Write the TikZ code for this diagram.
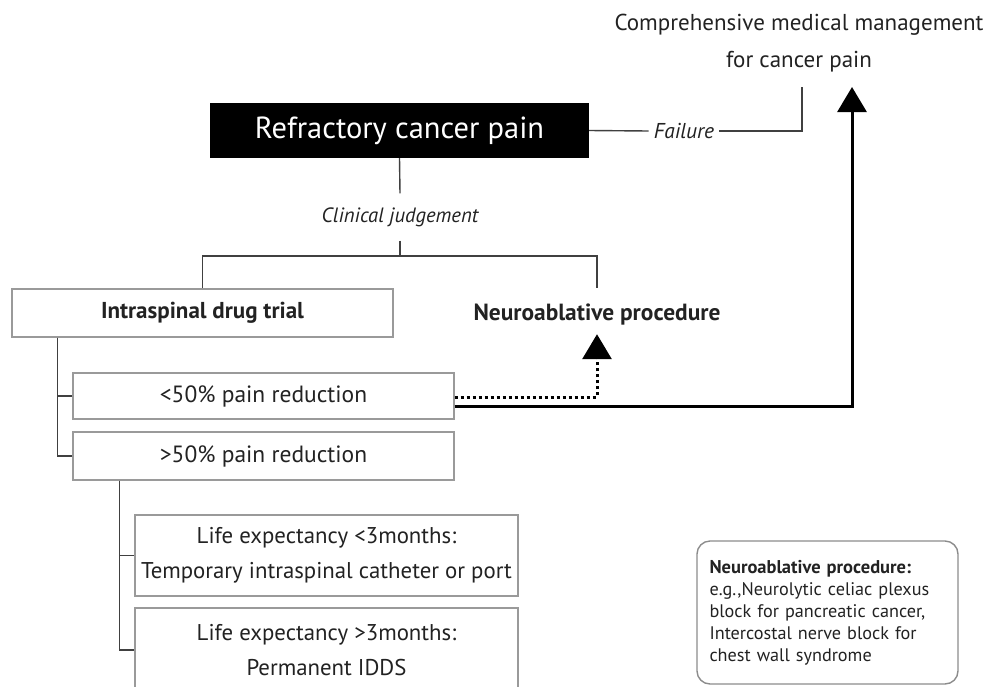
\documentclass[tikz,border=0pt]{standalone}
\usepackage{fontspec}
\setmainfont{PT Sans}
\usetikzlibrary{arrows.meta,positioning}

\definecolor{boxgray}{HTML}{9A9A9A}
\definecolor{linkgray}{HTML}{404040}
\definecolor{notegray}{HTML}{8C8C8C}
\definecolor{txt}{HTML}{222222}
\newcommand{\fs}[2]{\fontsize{#1}{#2}\selectfont}

\begin{document}
\begin{tikzpicture}[x=1pt,y=-1pt,
    box/.style={draw=boxgray, line width=1.4pt, fill=white, inner sep=0pt, text=txt},
    link/.style={draw=linkgray, line width=1.4pt},
    bigarrow/.style={line width=3pt, -{Triangle[width=29pt,length=25pt]}},
    dotarrow/.style={bigarrow, dash pattern=on 3pt off 3pt}]
  \useasboundingbox (0,0) rectangle (991,686);

  % top of the chart
  \node[align=center, text=txt, font=\fs{23}{37}] (mgmt) at (799,43)
    {Comprehensive medical management\\for cancer pain};
  \node[fill=black, text=white, minimum width=379pt, minimum height=55pt,
    font=\fs{30.5}{34}] (refr) at (399.5,130.5) {Refractory cancer pain};
  \node[text=txt, inner xsep=5pt, font=\fs{21.5}{24}\itshape] (fail) at (684,131) {Failure};
  \node[text=txt, minimum height=47pt, font=\fs{20.7}{24}\itshape] (clin) at (400,217)
    {Clinical judgement};

  % the two options
  \node[box, minimum width=381pt, minimum height=48pt, font=\bfseries\fs{23}{26}] (trial)
    at (202.5,313) {Intraspinal drug trial};
  \node[text=txt, minimum height=38pt, font=\bfseries\fs{23.4}{26}] (neuro) at (597,315)
    {Neuroablative procedure};

  % trial outcomes
  \node[box, minimum width=381pt, minimum height=46pt, font=\fs{23.5}{26}] (lt50)
    at (263.5,396) {<50\% pain reduction};
  \node[box, minimum width=381pt, minimum height=48pt, font=\fs{23.5}{26}] (gt50)
    at (263.5,456) {>50\% pain reduction};
  \node[box, minimum width=383pt, minimum height=81pt, align=center, font=\fs{22.8}{35}] (le3)
    at (326.5,555.5) {Life expectancy <3months:\\Temporary intraspinal catheter or port};
  \node[box, minimum width=383pt, minimum height=84pt, align=center, font=\fs{22.8}{35}] (ge3)
    at (326.5,650) {Life expectancy >3months:\\Permanent IDDS};

  % side note
  \node[draw=notegray, line width=1.4pt, rounded corners=13pt, text=txt,
    minimum width=261pt, minimum height=143pt, inner xsep=12.5pt, text width=236pt,
    align=left, font=\fs{18.2}{22}] (note) at (827.5,612.5)
    {{\bfseries\fs{18.5}{22}Neuroablative procedure:}\\e.g.,Neurolytic celiac plexus\\block for pancreatic cancer,\\Intercostal nerve block for\\chest wall syndrome};

  \coordinate (failup) at (802,87);
  \coordinate (split) at (400,256);
  \coordinate (mgmttip) at (852,87);
  \coordinate (tb) at ([xshift=46pt]trial.south west);
  \coordinate (gb) at ([xshift=47pt]gt50.south west);

  \draw[link] (refr.east) -- (fail.west);
  \draw[link] (fail.east) -| (failup);
  \draw[link] (refr.south) -- (clin.north);
  \draw[link] (clin.south) -- (split);
  \draw[link] (trial.north) |- (split) -| ([yshift=8pt]neuro.north);
  \draw[link] (tb) |- (lt50.west);
  \draw[link] (tb) |- (gt50.west);
  \draw[link] (gb) |- (le3.west);
  \draw[link] (gb) |- (ge3.west);

  \draw[dotarrow] ([yshift=-1pt]lt50.east) -| (neuro.south);
  \draw[bigarrow] ([yshift=-10pt]lt50.east) -| (mgmttip);
\end{tikzpicture}
\end{document}
